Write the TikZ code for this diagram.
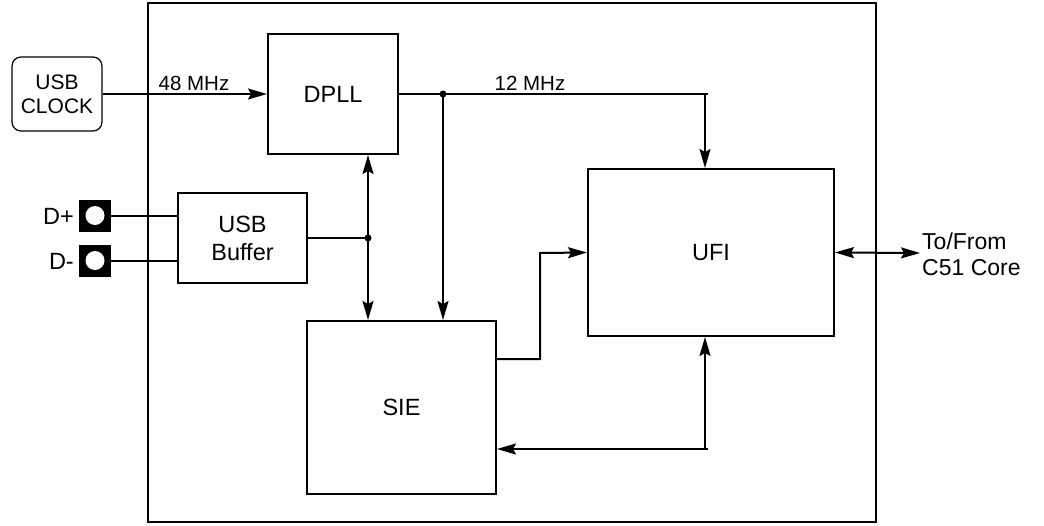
\documentclass[tikz,border=0pt]{standalone}
\usepackage{fontspec}
\setmainfont{Liberation Sans}
\usetikzlibrary{arrows.meta}
\tikzset{
  blk/.style={draw, line width=2pt, rectangle, inner sep=0pt, align=center, font=\fontsize{23.5}{28}\selectfont},
  wire/.style={line width=2pt},
  arr/.style={wire, -{Stealth[length=19pt,width=11pt,inset=3pt]}},
  darr/.style={wire, {Stealth[length=19pt,width=11pt,inset=3pt]}-{Stealth[length=19pt,width=11pt,inset=3pt]}},
  lbl/.style={inner sep=0pt, font=\fontsize{20.5}{24}\selectfont},
  dotj/.style={circle, fill, inner sep=0pt, minimum size=7pt},
  conn/.style={fill=black, minimum size=32pt, inner sep=0pt, rectangle}
}
\begin{document}
\begin{tikzpicture}[x=1pt,y=-1pt]
\useasboundingbox (0,0) rectangle (1044,525);
% outer box
\draw[line width=2pt] (148,3) rectangle (876,522);
% blocks
\node[blk, rounded corners=9pt, minimum width=90pt, minimum height=74pt, font=\fontsize{21}{24}\selectfont, line width=1.2pt] (clk) at (57,94) {USB\\CLOCK};
\node[blk, minimum width=130pt, minimum height=120pt] (dpll) at (333,94) {DPLL};
\node[blk, minimum width=129pt, minimum height=90pt] (buf) at (242.5,238) {USB\\Buffer};
\node[blk, minimum width=189pt, minimum height=173pt] (sie) at (401.5,407.5) {SIE};
\node[blk, minimum width=246pt, minimum height=167pt] (ufi) at (711,252.5) {UFI};
% connectors D+ D-
\node[conn] (dp) at (95,215.5) {};
\fill[white] (dp.center) circle (9.5pt);
\node[conn] (dm) at (95,260.5) {};
\fill[white] (dm.center) circle (9.5pt);
\node[anchor=east, inner sep=0pt, font=\fontsize{23.5}{28}\selectfont] (dpt) at (74,216) {D+};
\node[anchor=east, inner sep=0pt, font=\fontsize{23.5}{28}\selectfont] (dmt) at (74,261) {D-};
\draw[wire] (dp.east) -- (dp.east -| buf.west);
\draw[wire] (dm.east) -- (dm.east -| buf.west);
% coordinates
\coordinate (j1) at (443,94);
\coordinate (e12) at (708,94);
\coordinate (j2) at (368,238);
\coordinate (r1) at (540,359);
\coordinate (r2) at (540,253);
\coordinate (b1) at (705,449);
\coordinate (b2) at (708,449);
\coordinate (tf) at (920,253);
% 48 MHz
\draw[arr] (clk.east) -- (dpll.west);
\node[lbl] (l48) at (194,83) {48 MHz};
% 12 MHz
\draw[wire] (dpll.east) -- (e12);
\node[lbl] (l12) at (530,83) {12 MHz};
\node[dotj] (d1) at (j1) {};
\draw[arr] (e12 -| b1) -- (b1 |- ufi.north);
\draw[arr] (j1) -- (j1 |- sie.north);
% buffer
\draw[wire] (buf.east) -- (j2);
\node[dotj] (d2) at (j2) {};
\draw[darr] (j2 |- dpll.south) -- (j2 |- sie.north);
% SIE -> UFI
\draw[wire, -{Stealth[length=19pt,width=11pt,inset=3pt]}] (r1 -| sie.east) -- (r1) -- (r2) -- (ufi.west);
% UFI -> SIE
\draw[arr] (b1) -- (b1 |- ufi.south);
\draw[arr] (b2) -- (b2 -| sie.east);
% To/From
\draw[darr] (ufi.east) -- (tf);
\node[anchor=west, inner sep=0pt, align=left, font=\fontsize{23}{26}\selectfont] (tft) at (922,254) {To/From\\C51 Core};
\end{tikzpicture}
\end{document}
